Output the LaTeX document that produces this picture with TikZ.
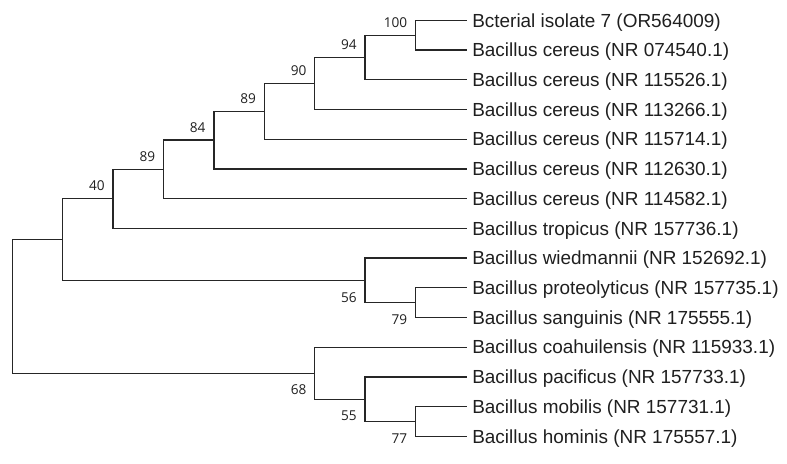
\documentclass[tikz,border=0pt]{standalone}
\usepackage{fontspec}
\setsansfont{Liberation Sans}
\newfontfamily\bootfont{Open Sans}
\usepackage{xcolor}
\usepackage{tikz}
\usetikzlibrary{positioning}

\begin{document}
\begin{tikzpicture}[
  x=0.5pt, y=-0.5pt,
  branch/.style={draw=black!85, line width=0.65pt},
  taxon/.style={anchor=west, inner xsep=2.6pt, inner ysep=0pt, text height=6.78pt, text depth=0pt, font=\sffamily\fontsize{9.47}{11}\selectfont, text=black!88},
  boot/.style={inner sep=0pt, font=\bootfont\fontsize{6.8}{8}\selectfont, text=black!88},
  bootup/.style={boot, anchor=south east, xshift=-4pt, yshift=3.65pt},
  bootdown/.style={boot, anchor=north east, xshift=-4pt, yshift=-5.75pt}
]
  \useasboundingbox (0,0) rectangle (787,464);

  % taxa, top to bottom
  \foreach \name [count=\i] in {
      Bcterial isolate 7 (OR564009),
      Bacillus cereus (NR 074540.1),
      Bacillus cereus (NR 115526.1),
      Bacillus cereus (NR 113266.1),
      Bacillus cereus (NR 115714.1),
      Bacillus cereus (NR 112630.1),
      Bacillus cereus (NR 114582.1),
      Bacillus tropicus (NR 157736.1),
      Bacillus wiedmannii (NR 152692.1),
      Bacillus proteolyticus (NR 157735.1),
      Bacillus sanguinis (NR 175555.1),
      Bacillus coahuilensis (NR 115933.1),
      Bacillus pacificus (NR 157733.1),
      Bacillus mobilis (NR 157731.1),
      Bacillus hominis (NR 175557.1)}
    \node[taxon] (t\i) at (466.7, {20.3+29.72*(\i-1)}) {\name};

  % internal nodes
  \coordinate (n100) at (415.5, 35.2);
  \coordinate (n94)  at (365.1, 57.4);
  \coordinate (n90)  at (314.7, 83.5);
  \coordinate (n89b) at (264.3, 111.3);
  \coordinate (n84)  at (213.9, 140.1);
  \coordinate (n89a) at (163.5, 169.4);
  \coordinate (n40)  at (113.1, 198.8);
  \coordinate (n79)  at (415.5, 302.7);
  \coordinate (n56)  at (365.1, 280.4);
  \coordinate (nA)   at (62.7, 239.6);
  \coordinate (n77)  at (415.5, 421.5);
  \coordinate (n55)  at (365.1, 399.2);
  \coordinate (n68)  at (314.7, 373.2);
  \coordinate (root) at (12.3, 306.4);

  % branches
  \draw[branch] (n100) |- (t1) (n100) |- (t2);
  \draw[branch] (n94) |- (n100) (n94) |- (t3);
  \draw[branch] (n90) |- (n94) (n90) |- (t4);
  \draw[branch] (n89b) |- (n90) (n89b) |- (t5);
  \draw[branch] (n84) |- (n89b) (n84) |- (t6);
  \draw[branch] (n89a) |- (n84) (n89a) |- (t7);
  \draw[branch] (n40) |- (n89a) (n40) |- (t8);
  \draw[branch] (n79) |- (t10) (n79) |- (t11);
  \draw[branch] (n56) |- (t9) (n56) |- (n79);
  \draw[branch] (nA) |- (n40) (nA) |- (n56);
  \draw[branch] (n77) |- (t14) (n77) |- (t15);
  \draw[branch] (n55) |- (t13) (n55) |- (n77);
  \draw[branch] (n68) |- (t12) (n68) |- (n55);
  \draw[branch] (root) |- (nA) (root) |- (n68);

  % bootstrap values
  \node[bootup] (b100) at (n100) {100};
  \node[bootup] (b94) at (n94) {94};
  \node[bootup] (b90) at (n90) {90};
  \node[bootup] (b89b) at (n89b) {89};
  \node[bootup] (b84) at (n84) {84};
  \node[bootup] (b89a) at (n89a) {89};
  \node[bootup] (b40) at (n40) {40};
  \node[bootdown] (b56) at (n56) {56};
  \node[bootdown] (b79) at (n79) {79};
  \node[bootdown] (b68) at (n68) {68};
  \node[bootdown] (b55) at (n55) {55};
  \node[bootdown] (b77) at (n77) {77};
\end{tikzpicture}
\end{document}
